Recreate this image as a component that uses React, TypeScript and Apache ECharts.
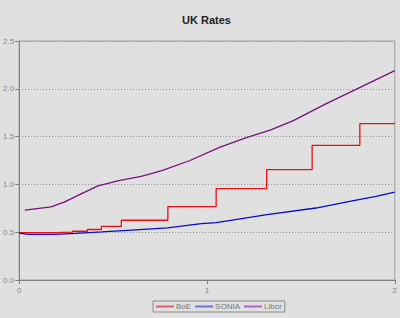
import React, { useEffect, useRef } from "react";
import * as echarts from "echarts";

const seriesNames = ["BoE", "SONIA", "Libor"];
const yTicks = { min: 0, max: 2.5, interval: 0.5 };
const xTicks = { min: 0, max: 2, interval: 1 };

const boeData: [number, number][] = [
  [0, 0.495], [0.19, 0.5], [0.285, 0.51], [0.364, 0.528], [0.438, 0.56],
  [0.544, 0.625], [0.792, 0.768], [1.049, 0.955], [1.318, 1.155],
  [1.56, 1.408], [1.814, 1.636], [2.0, 1.636],
];
const soniaData: [number, number][] = [
  [0, 0.49], [0.05, 0.478], [0.19, 0.478], [0.3, 0.488], [0.44, 0.503],
  [0.6, 0.522], [0.79, 0.545], [0.97, 0.59], [1.05, 0.6], [1.32, 0.684],
  [1.58, 0.753], [1.76, 0.823], [1.9, 0.875], [2.0, 0.92],
];
const liborData: [number, number][] = [
  [0.03, 0.73], [0.17, 0.765], [0.24, 0.815], [0.33, 0.9], [0.42, 0.985],
  [0.53, 1.04], [0.65, 1.085], [0.76, 1.145], [0.91, 1.25], [1.07, 1.39],
  [1.21, 1.49], [1.34, 1.57], [1.46, 1.667], [1.63, 1.84], [1.81, 2.01],
  [2.0, 2.19],
];

const lineColors = ["#e81010", "#0a0ac8", "#7a1080"];
const legendColors = ["#e05a6a", "#7070e0", "#b060c8"];

export default function App() {
  const ref = useRef<HTMLDivElement>(null);
  useEffect(() => {
    if (!ref.current) return;
    const chart = echarts.init(ref.current, null, { renderer: "svg" });
    const font = "Liberation Sans, Arial, sans-serif";
    chart.setOption({
      animation: false,
      backgroundColor: "#e0e0e0",
      title: {
        text: "UK Rates",
        left: 182,
        top: 14,
        padding: 0,
        textStyle: { fontFamily: font, fontSize: 11, fontWeight: "bold", color: "#222" },
      },
      legend: {
        left: 153,
        top: 301,
        orient: "horizontal",
        padding: [1, 3, 1, 3],
        borderColor: "#8a8a8a",
        borderWidth: 1,
        itemGap: 4,
        itemWidth: 18,
        itemHeight: 2,
        icon: "rect",
        textStyle: { fontFamily: font, fontSize: 8, color: "#777", padding: [0, 0, 0, -3], lineHeight: 9 },
        data: seriesNames.map((n, i) => ({
          name: n,
          itemStyle: { color: legendColors[i] },
          lineStyle: { color: legendColors[i] },
          textStyle: { color: "#777" },
        })),
      },
      grid: {
        left: 17,
        right: 4,
        top: 41,
        bottom: 38,
        show: true,
        backgroundColor: "transparent",
        borderColor: "#a0a0a0",
        borderWidth: 1,
      },
      xAxis: {
        type: "value",
        min: xTicks.min,
        max: xTicks.max,
        interval: xTicks.interval,
        axisLine: { show: true, lineStyle: { color: "#808080", width: 1 } },
        axisTick: { show: true, length: 4, lineStyle: { color: "#808080" } },
        axisLabel: { fontFamily: font, fontSize: 8, color: "#888", margin: 6 },
        splitLine: { show: false },
      },
      yAxis: {
        type: "value",
        min: yTicks.min,
        max: yTicks.max,
        interval: yTicks.interval,
        axisLine: { show: true, lineStyle: { color: "#808080", width: 1 } },
        axisTick: { show: true, length: 4, lineStyle: { color: "#808080" } },
        axisLabel: {
          fontFamily: font,
          fontSize: 8,
          color: "#888",
          margin: 5,
          formatter: (v: number) => v.toFixed(1),
        },
        splitLine: { show: true, lineStyle: { color: "#909090", type: [1, 2], width: 1 } },
      },
      series: [
        {
          name: seriesNames[0],
          type: "line",
          step: "end",
          data: boeData,
          showSymbol: false,
          lineStyle: { color: lineColors[0], width: 1.3 },
          itemStyle: { color: legendColors[0] },
        },
        {
          name: seriesNames[1],
          type: "line",
          data: soniaData,
          showSymbol: false,
          lineStyle: { color: lineColors[1], width: 1.3 },
          itemStyle: { color: legendColors[1] },
        },
        {
          name: seriesNames[2],
          type: "line",
          data: liborData,
          showSymbol: false,
          lineStyle: { color: lineColors[2], width: 1.3 },
          itemStyle: { color: legendColors[2] },
        },
      ],
    });
    return () => chart.dispose();
  }, []);
  return (
    <div
      ref={ref}
      style={{ position: "fixed", left: 0, top: 0, width: 400, height: 318 }}
    />
  );
}
